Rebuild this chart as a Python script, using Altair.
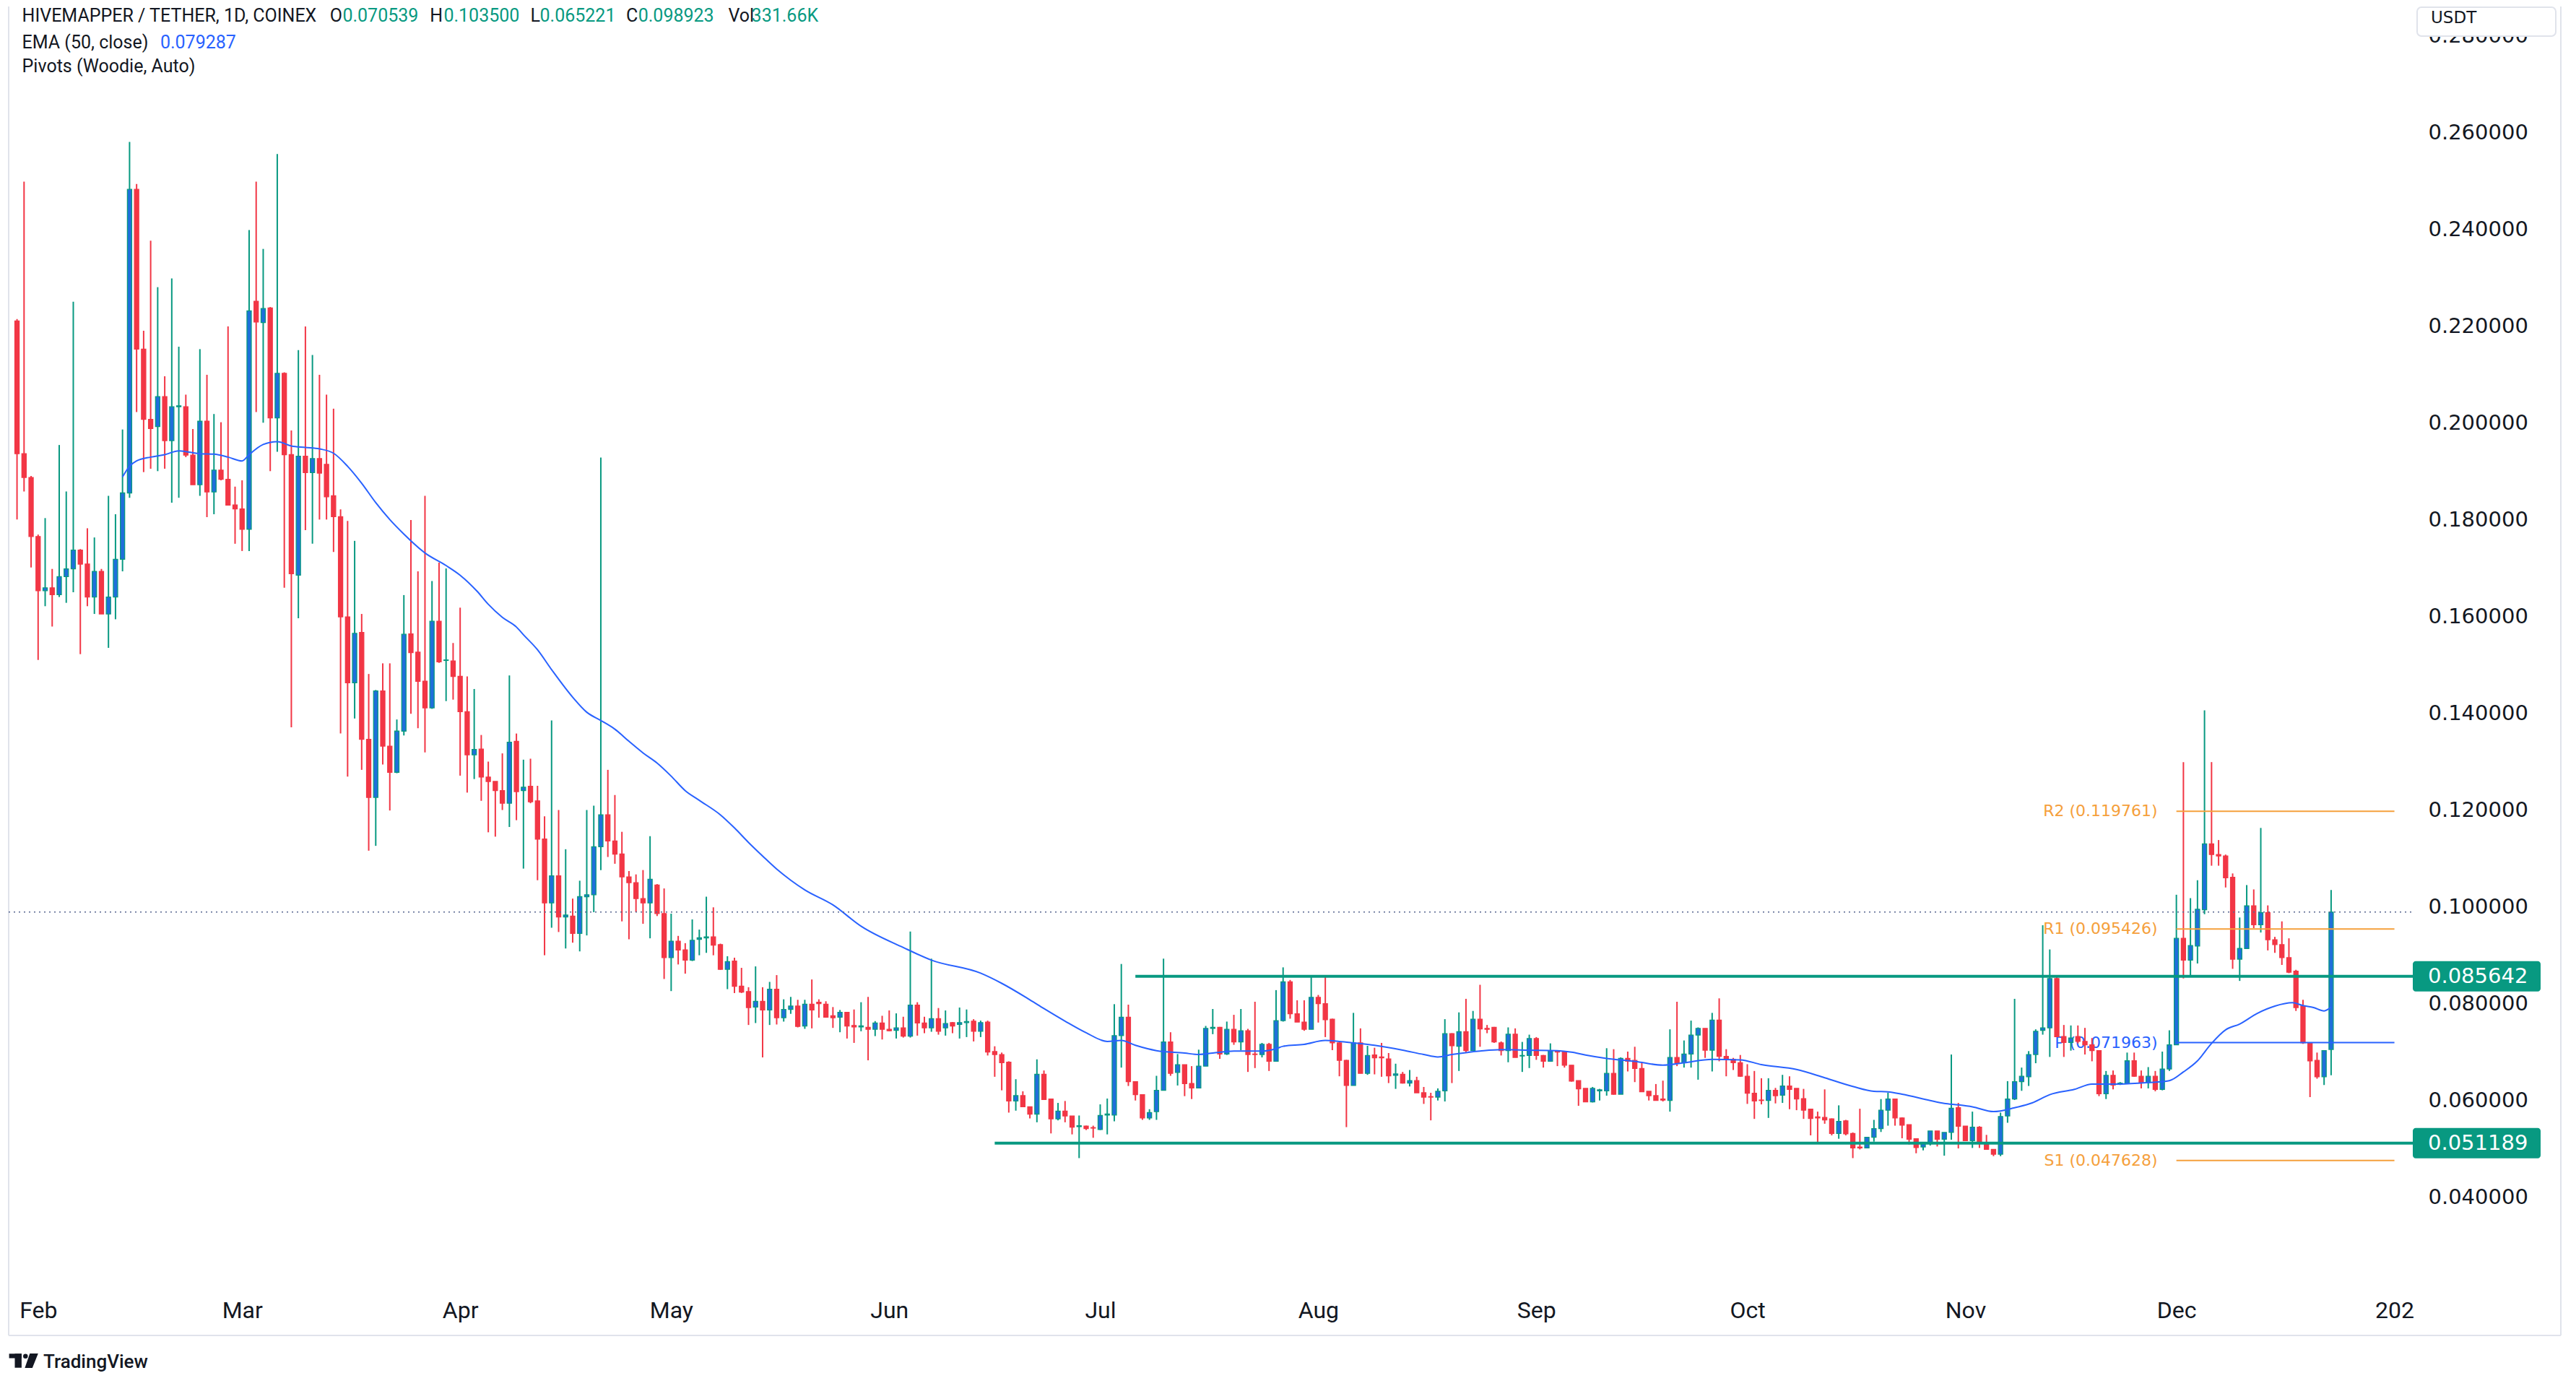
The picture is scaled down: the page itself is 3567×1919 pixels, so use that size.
import altair as alt
import pandas as pd
from datetime import datetime, timedelta, timezone

# ---------------- data ----------------
OPEN = [
    0.2210, 0.1936, 0.1887, 0.1765, 0.1653, 0.1659, 0.1645, 0.1682, 0.1698, 0.1737,
    0.1708, 0.1640, 0.1693, 0.1605, 0.1640, 0.1718, 0.1855, 0.2482, 0.2152, 0.2007,
    0.1992, 0.2054, 0.1963, 0.2033, 0.2033, 0.1933, 0.1872, 0.2003, 0.1857, 0.1902,
    0.1883, 0.1830, 0.1822, 0.1780, 0.2251, 0.2207, 0.2237, 0.2010, 0.2102, 0.1934,
    0.1685, 0.1931, 0.1897, 0.1926, 0.1914, 0.1849, 0.1806, 0.1599, 0.1463, 0.1567,
    0.1346, 0.1226, 0.1446, 0.1332, 0.1278, 0.1363, 0.1564, 0.1526, 0.1466, 0.1411,
    0.1590, 0.1509, 0.1508, 0.1476, 0.1403, 0.1314, 0.1326, 0.1268, 0.1259, 0.1240,
    0.1214, 0.1342, 0.1240, 0.1249, 0.1219, 0.1140, 0.1008, 0.1064, 0.0979, 0.0981,
    0.0945, 0.1021, 0.1025, 0.1124, 0.1190, 0.1136, 0.1109, 0.1062, 0.1050, 0.1017,
    0.1008, 0.1045, 0.0986, 0.0895, 0.0929, 0.0911, 0.0890, 0.0933, 0.0936, 0.0938,
    0.0922, 0.0871, 0.0888, 0.0836, 0.0825, 0.0793, 0.0805, 0.0787, 0.0830, 0.0771,
    0.0788, 0.0795, 0.0754, 0.0799, 0.0803, 0.0799, 0.0775, 0.0772, 0.0782, 0.0755,
    0.0752, 0.0751, 0.0747, 0.0760, 0.0747, 0.0745, 0.0750, 0.0733, 0.0797, 0.0760,
    0.0750, 0.0769, 0.0750, 0.0761, 0.0757, 0.0761, 0.0764, 0.0743, 0.0762, 0.0701,
    0.0695, 0.0679, 0.0599, 0.0610, 0.0587, 0.0572, 0.0654, 0.0603, 0.0562, 0.0578,
    0.0568, 0.0546, 0.0547, 0.0544, 0.0540, 0.0570, 0.0570, 0.0734, 0.0772, 0.0639,
    0.0612, 0.0564, 0.0577, 0.0621, 0.0721, 0.0658, 0.0674, 0.0635, 0.0626, 0.0671,
    0.0749, 0.0751, 0.0696, 0.0747, 0.0721, 0.0744, 0.0696, 0.0695, 0.0716, 0.0681,
    0.0765, 0.0845, 0.0779, 0.0762, 0.0747, 0.0813, 0.0800, 0.0768, 0.0719, 0.0683,
    0.0631, 0.0719, 0.0656, 0.0694, 0.0690, 0.0686, 0.0652, 0.0654, 0.0636, 0.0641,
    0.0616, 0.0608, 0.0607, 0.0620, 0.0738, 0.0712, 0.0742, 0.0703, 0.0768, 0.0749,
    0.0751, 0.0719, 0.0703, 0.0737, 0.0692, 0.0693, 0.0728, 0.0693, 0.0681, 0.0703,
    0.0700, 0.0673, 0.0641, 0.0625, 0.0597, 0.0620, 0.0620, 0.0656, 0.0613, 0.0687,
    0.0683, 0.0666, 0.0619, 0.0610, 0.0603, 0.0600, 0.0689, 0.0678, 0.0696, 0.0735,
    0.0749, 0.0704, 0.0766, 0.0691, 0.0685, 0.0678, 0.0650, 0.0615, 0.0601, 0.0600,
    0.0621, 0.0611, 0.0630, 0.0625, 0.0604, 0.0582, 0.0566, 0.0565, 0.0562, 0.0532,
    0.0558, 0.0532, 0.0504, 0.0502, 0.0524, 0.0542, 0.0580, 0.0603, 0.0564, 0.0550,
    0.0521, 0.0504, 0.0512, 0.0537, 0.0520, 0.0534, 0.0585, 0.0547, 0.0517, 0.0545,
    0.0512, 0.0499, 0.0489, 0.0568, 0.0603, 0.0639, 0.0649, 0.0695, 0.0745, 0.0750,
    0.0852, 0.0732, 0.0720, 0.0732, 0.0722, 0.0715, 0.0703, 0.0614, 0.0652, 0.0634,
    0.0635, 0.0682, 0.0650, 0.0637, 0.0650, 0.0623, 0.0665, 0.0715, 0.0935, 0.0890,
    0.0919, 0.0994, 0.1130, 0.1108, 0.1105, 0.1061, 0.0892, 0.0914, 0.1002, 0.0963,
    0.0988, 0.0932, 0.0922, 0.0895, 0.0867, 0.0795, 0.0719, 0.0683, 0.0649, 0.070539,
]
HIGH = [
    0.2214, 0.2498, 0.1890, 0.1769, 0.1803, 0.1698, 0.1954, 0.1858, 0.2250, 0.1739,
    0.1782, 0.1763, 0.1698, 0.1849, 0.1811, 0.1986, 0.2580, 0.2493, 0.2190, 0.2376,
    0.2280, 0.2096, 0.2298, 0.2157, 0.2058, 0.1987, 0.2152, 0.2099, 0.2018, 0.2001,
    0.2199, 0.1868, 0.1881, 0.2398, 0.2498, 0.2359, 0.2239, 0.2555, 0.2104, 0.1984,
    0.2150, 0.2199, 0.2140, 0.2099, 0.2058, 0.2029, 0.1821, 0.1797, 0.1756, 0.1605,
    0.1481, 0.1448, 0.1503, 0.1503, 0.1387, 0.1644, 0.1799, 0.1693, 0.1849, 0.1673,
    0.1711, 0.1699, 0.1545, 0.1618, 0.1476, 0.1450, 0.1355, 0.1300, 0.1259, 0.1317,
    0.1478, 0.1358, 0.1304, 0.1306, 0.1250, 0.1187, 0.1385, 0.1200, 0.1119, 0.1017,
    0.1054, 0.1200, 0.1209, 0.1928, 0.1283, 0.1231, 0.1155, 0.1074, 0.1067, 0.1076,
    0.1146, 0.1047, 0.1038, 0.0986, 0.0940, 0.0925, 0.0974, 0.0953, 0.1021, 0.0999,
    0.0924, 0.0898, 0.0895, 0.0874, 0.0834, 0.0877, 0.0834, 0.0845, 0.0859, 0.0809,
    0.0814, 0.0808, 0.0808, 0.0850, 0.0809, 0.0805, 0.0793, 0.0787, 0.0782, 0.0788,
    0.0803, 0.0814, 0.0764, 0.0775, 0.0786, 0.0780, 0.0773, 0.0949, 0.0803, 0.0773,
    0.0893, 0.0791, 0.0786, 0.0762, 0.0792, 0.0788, 0.0768, 0.0765, 0.0765, 0.0712,
    0.0699, 0.0681, 0.0644, 0.0619, 0.0587, 0.0685, 0.0662, 0.0603, 0.0595, 0.0599,
    0.0568, 0.0569, 0.0548, 0.0548, 0.0592, 0.0604, 0.0799, 0.0882, 0.0798, 0.0639,
    0.0612, 0.0582, 0.0651, 0.0893, 0.0741, 0.0696, 0.0674, 0.0671, 0.0705, 0.0754,
    0.0789, 0.0752, 0.0763, 0.0777, 0.0789, 0.0748, 0.0804, 0.0719, 0.0719, 0.0828,
    0.0875, 0.0849, 0.0807, 0.0807, 0.0855, 0.0818, 0.0859, 0.0769, 0.0721, 0.0684,
    0.0781, 0.0749, 0.0713, 0.0709, 0.0719, 0.0698, 0.0676, 0.0659, 0.0663, 0.0649,
    0.0628, 0.0616, 0.0625, 0.0768, 0.0739, 0.0782, 0.0810, 0.0785, 0.0839, 0.0756,
    0.0752, 0.0722, 0.0751, 0.0749, 0.0721, 0.0736, 0.0731, 0.0694, 0.0718, 0.0704,
    0.0701, 0.0673, 0.0641, 0.0625, 0.0628, 0.0624, 0.0708, 0.0706, 0.0689, 0.0701,
    0.0711, 0.0680, 0.0619, 0.0634, 0.0641, 0.0747, 0.0804, 0.0724, 0.0765, 0.0751,
    0.0749, 0.0781, 0.0811, 0.0706, 0.0688, 0.0694, 0.0675, 0.0661, 0.0646, 0.0646,
    0.0626, 0.0653, 0.0650, 0.0625, 0.0624, 0.0582, 0.0577, 0.0623, 0.0563, 0.0590,
    0.0560, 0.0534, 0.0583, 0.0525, 0.0560, 0.0603, 0.0616, 0.0603, 0.0565, 0.0550,
    0.0522, 0.0514, 0.0537, 0.0537, 0.0534, 0.0695, 0.0595, 0.0547, 0.0577, 0.0547,
    0.0529, 0.0499, 0.0575, 0.0640, 0.0810, 0.0668, 0.0702, 0.0747, 0.0962, 0.0912,
    0.0855, 0.0756, 0.0755, 0.0755, 0.0750, 0.0729, 0.0703, 0.0661, 0.0662, 0.0638,
    0.0699, 0.0699, 0.0662, 0.0669, 0.0661, 0.0701, 0.0745, 0.1025, 0.1299, 0.1018,
    0.1055, 0.1406, 0.1299, 0.1138, 0.1108, 0.1069, 0.0978, 0.1045, 0.1036, 0.1163,
    0.1003, 0.0938, 0.0970, 0.0935, 0.0870, 0.0808, 0.0719, 0.0699, 0.0703, 0.1035,
]
LOW = [
    0.1800, 0.1858, 0.1701, 0.1510, 0.1621, 0.1579, 0.1640, 0.1628, 0.1650, 0.1522,
    0.1621, 0.1605, 0.1605, 0.1535, 0.1594, 0.1693, 0.1845, 0.2022, 0.1898, 0.1905,
    0.1900, 0.1905, 0.1835, 0.1845, 0.1929, 0.1872, 0.1849, 0.1805, 0.1811, 0.1881,
    0.1830, 0.1750, 0.1735, 0.1735, 0.2022, 0.2000, 0.1900, 0.1940, 0.1659, 0.1371,
    0.1596, 0.1778, 0.1750, 0.1800, 0.1800, 0.1733, 0.1358, 0.1269, 0.1389, 0.1283,
    0.1116, 0.1126, 0.1294, 0.1199, 0.1276, 0.1354, 0.1399, 0.1369, 0.1319, 0.1409,
    0.1504, 0.1425, 0.1428, 0.1271, 0.1236, 0.1264, 0.1219, 0.1154, 0.1145, 0.1200,
    0.1165, 0.1179, 0.1079, 0.1214, 0.1055, 0.0900, 0.0957, 0.0948, 0.0914, 0.0926,
    0.0908, 0.0941, 0.0989, 0.1076, 0.1103, 0.1089, 0.0970, 0.0933, 0.0989, 0.0965,
    0.0935, 0.0981, 0.0851, 0.0826, 0.0881, 0.0862, 0.0888, 0.0900, 0.0905, 0.0900,
    0.0870, 0.0830, 0.0822, 0.0822, 0.0756, 0.0760, 0.0689, 0.0756, 0.0757, 0.0763,
    0.0779, 0.0751, 0.0748, 0.0749, 0.0771, 0.0771, 0.0750, 0.0741, 0.0728, 0.0719,
    0.0743, 0.0683, 0.0733, 0.0726, 0.0743, 0.0728, 0.0730, 0.0730, 0.0734, 0.0739,
    0.0742, 0.0736, 0.0734, 0.0739, 0.0728, 0.0731, 0.0722, 0.0731, 0.0693, 0.0649,
    0.0621, 0.0575, 0.0579, 0.0587, 0.0563, 0.0555, 0.0602, 0.0532, 0.0559, 0.0555,
    0.0530, 0.0481, 0.0539, 0.0523, 0.0539, 0.0530, 0.0557, 0.0668, 0.0630, 0.0600,
    0.0560, 0.0560, 0.0560, 0.0621, 0.0651, 0.0631, 0.0609, 0.0603, 0.0626, 0.0671,
    0.0737, 0.0686, 0.0694, 0.0715, 0.0704, 0.0659, 0.0667, 0.0689, 0.0661, 0.0681,
    0.0763, 0.0769, 0.0762, 0.0744, 0.0747, 0.0761, 0.0731, 0.0704, 0.0650, 0.0545,
    0.0631, 0.0656, 0.0653, 0.0654, 0.0649, 0.0636, 0.0624, 0.0635, 0.0629, 0.0616,
    0.0593, 0.0559, 0.0600, 0.0598, 0.0636, 0.0661, 0.0699, 0.0703, 0.0711, 0.0739,
    0.0719, 0.0693, 0.0679, 0.0689, 0.0659, 0.0667, 0.0684, 0.0668, 0.0680, 0.0671,
    0.0668, 0.0639, 0.0589, 0.0597, 0.0596, 0.0600, 0.0610, 0.0612, 0.0613, 0.0660,
    0.0638, 0.0618, 0.0600, 0.0600, 0.0598, 0.0577, 0.0671, 0.0668, 0.0668, 0.0643,
    0.0688, 0.0660, 0.0681, 0.0650, 0.0663, 0.0649, 0.0593, 0.0562, 0.0592, 0.0564,
    0.0594, 0.0595, 0.0582, 0.0580, 0.0562, 0.0528, 0.0511, 0.0552, 0.0528, 0.0521,
    0.0528, 0.0481, 0.0499, 0.0502, 0.0515, 0.0535, 0.0548, 0.0548, 0.0522, 0.0509,
    0.0491, 0.0497, 0.0507, 0.0505, 0.0486, 0.0519, 0.0501, 0.0517, 0.0502, 0.0502,
    0.0499, 0.0485, 0.0485, 0.0554, 0.0601, 0.0620, 0.0630, 0.0677, 0.0736, 0.0690,
    0.0732, 0.0690, 0.0703, 0.0718, 0.0695, 0.0681, 0.0609, 0.0603, 0.0623, 0.0632,
    0.0634, 0.0649, 0.0625, 0.0625, 0.0619, 0.0621, 0.0661, 0.0715, 0.0852, 0.0858,
    0.0883, 0.0985, 0.1085, 0.1085, 0.1040, 0.0872, 0.0847, 0.0913, 0.0956, 0.0947,
    0.0910, 0.0905, 0.0880, 0.0863, 0.0785, 0.0717, 0.0607, 0.0645, 0.0632, 0.065221,
]
CLOSE = [
    0.1936, 0.1887, 0.1765, 0.1653, 0.1659, 0.1645, 0.1682, 0.1698, 0.1737, 0.1708,
    0.1640, 0.1693, 0.1605, 0.1640, 0.1718, 0.1855, 0.2482, 0.2152, 0.2007, 0.1988,
    0.2054, 0.1963, 0.2033, 0.2035, 0.1933, 0.1872, 0.2003, 0.1857, 0.1902, 0.1883,
    0.1830, 0.1822, 0.1780, 0.2231, 0.2208, 0.2236, 0.2010, 0.2102, 0.1934, 0.1688,
    0.1931, 0.1897, 0.1926, 0.1896, 0.1847, 0.1806, 0.1599, 0.1463, 0.1565, 0.1346,
    0.1226, 0.1446, 0.1332, 0.1278, 0.1363, 0.1563, 0.1525, 0.1466, 0.1411, 0.1590,
    0.1506, 0.1510, 0.1476, 0.1403, 0.1314, 0.1325, 0.1268, 0.1259, 0.1240, 0.1214,
    0.1340, 0.1238, 0.1247, 0.1217, 0.1140, 0.1008, 0.1064, 0.0979, 0.0983, 0.0945,
    0.1021, 0.1025, 0.1124, 0.1190, 0.1136, 0.1109, 0.1062, 0.1050, 0.1017, 0.1008,
    0.1057, 0.0986, 0.0895, 0.0929, 0.0911, 0.0890, 0.0931, 0.0936, 0.0938, 0.0921,
    0.0871, 0.0887, 0.0836, 0.0824, 0.0792, 0.0805, 0.0787, 0.0830, 0.0771, 0.0788,
    0.0795, 0.0753, 0.0799, 0.0787, 0.0800, 0.0772, 0.0771, 0.0782, 0.0754, 0.0752,
    0.0754, 0.0747, 0.0760, 0.0747, 0.0744, 0.0750, 0.0733, 0.0797, 0.0760, 0.0750,
    0.0769, 0.0743, 0.0759, 0.0754, 0.0761, 0.0763, 0.0743, 0.0761, 0.0700, 0.0695,
    0.0678, 0.0599, 0.0610, 0.0587, 0.0572, 0.0654, 0.0602, 0.0562, 0.0578, 0.0568,
    0.0545, 0.0548, 0.0542, 0.0543, 0.0569, 0.0572, 0.0734, 0.0772, 0.0639, 0.0612,
    0.0564, 0.0575, 0.0621, 0.0721, 0.0656, 0.0674, 0.0635, 0.0626, 0.0671, 0.0749,
    0.0751, 0.0696, 0.0747, 0.0721, 0.0744, 0.0695, 0.0695, 0.0716, 0.0681, 0.0765,
    0.0845, 0.0779, 0.0762, 0.0747, 0.0813, 0.0800, 0.0767, 0.0719, 0.0683, 0.0631,
    0.0719, 0.0656, 0.0693, 0.0688, 0.0688, 0.0651, 0.0655, 0.0636, 0.0641, 0.0616,
    0.0607, 0.0607, 0.0619, 0.0738, 0.0713, 0.0742, 0.0703, 0.0768, 0.0748, 0.0747,
    0.0721, 0.0703, 0.0737, 0.0689, 0.0693, 0.0728, 0.0693, 0.0681, 0.0703, 0.0700,
    0.0673, 0.0640, 0.0624, 0.0597, 0.0625, 0.0622, 0.0656, 0.0613, 0.0687, 0.0681,
    0.0666, 0.0618, 0.0610, 0.0600, 0.0601, 0.0689, 0.0678, 0.0696, 0.0735, 0.0749,
    0.0704, 0.0766, 0.0691, 0.0685, 0.0678, 0.0650, 0.0615, 0.0599, 0.0600, 0.0621,
    0.0610, 0.0630, 0.0623, 0.0603, 0.0580, 0.0563, 0.0564, 0.0560, 0.0532, 0.0557,
    0.0531, 0.0502, 0.0502, 0.0524, 0.0542, 0.0580, 0.0603, 0.0564, 0.0549, 0.0520,
    0.0503, 0.0512, 0.0537, 0.0520, 0.0534, 0.0584, 0.0547, 0.0517, 0.0545, 0.0512,
    0.0499, 0.0489, 0.0567, 0.0603, 0.0639, 0.0650, 0.0695, 0.0743, 0.0750, 0.0852,
    0.0732, 0.0720, 0.0729, 0.0722, 0.0715, 0.0703, 0.0614, 0.0652, 0.0632, 0.0636,
    0.0682, 0.0650, 0.0637, 0.0650, 0.0623, 0.0665, 0.0715, 0.0935, 0.0890, 0.0920,
    0.0995, 0.1130, 0.1108, 0.1105, 0.1060, 0.0892, 0.0914, 0.1002, 0.0963, 0.0988,
    0.0932, 0.0922, 0.0895, 0.0865, 0.0792, 0.0719, 0.0682, 0.0649, 0.0703, 0.098923,
]

# EMA(50) line: (bar index, value)
EMA_IDX = [15, 16, 17, 19, 21, 23, 26, 28, 30, 32, 33, 35, 37, 39, 41, 43, 45, 47, 49, 51,
           53, 55, 58, 61, 63, 65.4, 67, 69, 71, 72, 74, 76, 79, 81, 83, 85, 87, 89, 91, 93,
           95, 97, 100, 102, 104, 106, 108, 110, 112, 116, 120, 126, 130, 137, 140, 144, 146,
           149, 152, 155, 157, 159, 162, 166, 168, 170, 173, 177, 179, 180, 183, 186, 188,
           190, 193, 197, 200, 202, 204, 208, 211, 215, 219, 221, 223, 226, 230, 234, 237,
           241, 245, 248, 253, 257, 261, 264, 266, 268, 272, 274, 276, 278, 281, 284, 286.5,
           289, 292.5, 295, 299, 303, 306, 308, 310, 312, 314, 316, 318.5, 321, 323.5, 325,
           326.5, 328, 329]
EMA_VAL = [0.1888, 0.1910, 0.1921, 0.1929, 0.1934, 0.1942, 0.1936, 0.1935, 0.1929, 0.1921,
           0.1934, 0.1955, 0.1961, 0.1952, 0.1949, 0.1946, 0.1937, 0.1910, 0.1875, 0.1835,
           0.1800, 0.1770, 0.1731, 0.1705, 0.1685, 0.1652, 0.1625, 0.1598, 0.1578, 0.1562,
           0.1531, 0.1490, 0.1433, 0.1402, 0.1385, 0.1367, 0.1342, 0.1318, 0.1297, 0.1270,
           0.1240, 0.1220, 0.1190, 0.1163, 0.1133, 0.1105, 0.1078, 0.1055, 0.1035, 0.1004,
           0.0960, 0.0916, 0.0890, 0.0863, 0.0842, 0.0808, 0.0790, 0.0764, 0.0740, 0.0722,
           0.0724, 0.0714, 0.0703, 0.0698, 0.0695, 0.0698, 0.0702, 0.0702, 0.0707, 0.0712,
           0.0716, 0.0724, 0.0722, 0.0719, 0.0714, 0.0704, 0.0695, 0.0690, 0.0695, 0.0702,
           0.0705, 0.0704, 0.0703, 0.0700, 0.0694, 0.0687, 0.0681, 0.0673, 0.0678, 0.0685,
           0.0684, 0.0674, 0.0664, 0.0647, 0.0629, 0.0619, 0.0618, 0.0613, 0.0600, 0.0594,
           0.0591, 0.0587, 0.0577, 0.0585, 0.0595, 0.0612, 0.0623, 0.0634, 0.0634, 0.0637,
           0.0641, 0.0659, 0.0682, 0.0718, 0.0746, 0.0758, 0.0780, 0.0795, 0.0802, 0.0796,
           0.0792, 0.0785, 0.0793]

LEVEL_VALUES = [0.051189, 0.085642]          # support, resistance
LEVEL_START_IDX = [139, 159]
PIVOT_NAMES = ["R2", "R1", "P", "S1"]
PIVOT_VALUES = [0.119761, 0.095426, 0.071963, 0.047628]
PIVOT_START_IDX = 307
PIVOT_END_IDX = 338
Y_TICKS = [0.04, 0.06, 0.08, 0.10, 0.12, 0.14, 0.16, 0.18, 0.20, 0.22, 0.24, 0.26, 0.28]

# ---------------- helpers / layout ----------------
UTC = timezone.utc
FIRST_DAY = datetime(2024, 1, 29, tzinfo=UTC)


def day(i):
    return FIRST_DAY + timedelta(days=i)


def iso(d):
    return d.strftime("%Y-%m-%dT%H:%M:%SZ")


def ms(d):
    return int(d.timestamp() * 1000)


W, H = 3334, 1774          # plot area (page x 8..3342, y 8..1782)
M = 8                      # page margin
X_DOMAIN = [ms(day(-1.085)), ms(day(340.2))]
Y_DOMAIN = [0.021317, 0.285974]
PX = (Y_DOMAIN[1] - Y_DOMAIN[0]) / H

UP_LINE = "#089981"
UP_BODY = "#1f6fdb"
DOWN = "#f23645"
EMA_C = "#2962ff"
ORANGE = "#f5a03c"
DARK = "#131722"
FRAME = "#e0e3eb"

month_ticks = [ms(datetime(2024, m, 1, tzinfo=UTC)) for m in range(2, 13)] + [ms(datetime(2025, 1, 1, tzinfo=UTC))]

xs = alt.Scale(type="utc", domain=X_DOMAIN, nice=False)
ys = alt.Scale(domain=Y_DOMAIN, nice=False, zero=False)
x_axis = alt.Axis(values=month_ticks, title=None, domain=False, ticks=False, grid=False,
                  labelExpr="utcmonth(datum.value) == 0 ? '202' : utcFormat(datum.value, '%b')",
                  labelFont="Roboto", labelFontSize=32, labelColor=DARK, labelPadding=31,
                  labelBaseline="middle", labelAlign="center", labelFlush=False, labelOverlap=False)
y_axis = alt.Axis(orient="right", values=Y_TICKS, format=".6f", title=None, domain=False,
                  ticks=False, grid=False, labelFont="DejaVu Sans", labelFontSize=29,
                  labelColor=DARK, labelPadding=20, labelOverlap=False, labelFlush=False)


def X(f):
    return alt.X(f"{f}:T", scale=xs, axis=x_axis)


def Y(f):
    return alt.Y(f"{f}:Q", scale=ys, axis=y_axis)


one = pd.DataFrame({"k": [0]})


def text(s, px, py, size, color=DARK, font="Roboto", align="left", weight="normal"):
    return alt.Chart(one).mark_text(text=s, align=align, baseline="middle", font=font,
                                    fontSize=size, color=color, fontWeight=weight).encode(
        x=alt.value(px - M), y=alt.value(py - M))


def box(x1, x2, y1, y2, **kw):
    return alt.Chart(one).mark_rect(**kw).encode(
        x=alt.value(x1 - M), x2=alt.value(x2 - M), y=alt.value(y1 - M), y2=alt.value(y2 - M))


def vline(px, y1, y2):
    return alt.Chart(one).mark_rule(color=FRAME, strokeWidth=2).encode(
        x=alt.value(px - M), y=alt.value(y1 - M), y2=alt.value(y2 - M))


def hline(py, x1, x2):
    return alt.Chart(one).mark_rule(color=FRAME, strokeWidth=2).encode(
        y=alt.value(py - M), x=alt.value(x1 - M), x2=alt.value(x2 - M))


# ---------------- data frames ----------------
candles = pd.DataFrame({
    "date": [iso(day(i)) for i in range(len(OPEN))],
    "open": OPEN, "high": HIGH, "low": LOW, "close": CLOSE,
})
candles["lo"] = candles[["open", "close"]].min(axis=1)
candles["hi"] = candles[["open", "close"]].max(axis=1)
candles["dir"] = ["up" if c >= o else "down" for o, c in zip(OPEN, CLOSE)]

ema = pd.DataFrame({"date": [iso(day(i)) for i in EMA_IDX], "ema": EMA_VAL})
levels = pd.DataFrame({"date": [iso(day(i)) for i in LEVEL_START_IDX], "value": LEVEL_VALUES})
pivots = pd.DataFrame({"name": PIVOT_NAMES, "value": PIVOT_VALUES,
                       "start": iso(day(PIVOT_START_IDX)), "end": iso(day(PIVOT_END_IDX))})
last = pd.DataFrame({"value": [CLOSE[-1]]})

stroke_scale = alt.Scale(domain=["up", "down"], range=[UP_LINE, DOWN])
fill_scale = alt.Scale(domain=["up", "down"], range=[UP_BODY, DOWN])
pivot_scale = alt.Scale(domain=PIVOT_NAMES, range=[ORANGE, ORANGE, EMA_C, ORANGE])

# ---------------- layers ----------------
pivot_labels = alt.Chart(pivots).transform_calculate(
    label="datum.name + ' (' + format(datum.value, '.6f') + ')'"
).mark_text(align="right", baseline="middle", dx=-26, font="DejaVu Sans", fontSize=22).encode(
    x=X("start"), y=Y("value"), text="label:N",
    color=alt.Color("name:N", scale=pivot_scale, legend=None))

wicks = alt.Chart(candles).mark_rule(strokeWidth=2).encode(
    x=X("date"), y=Y("low"), y2="high:Q",
    stroke=alt.Stroke("dir:N", scale=stroke_scale, legend=None))

bodies = alt.Chart(candles).mark_bar(size=6, strokeWidth=1.3).encode(
    x=X("date"), y=Y("lo"), y2="hi:Q",
    fill=alt.Fill("dir:N", scale=fill_scale, legend=None),
    stroke=alt.Stroke("dir:N", scale=stroke_scale, legend=None))

pivot_lines = alt.Chart(pivots).mark_rule(strokeWidth=2).encode(
    x=X("start"), x2="end:T", y=Y("value"),
    color=alt.Color("name:N", scale=pivot_scale, legend=None))

ema_line = alt.Chart(ema).mark_line(color=EMA_C, strokeWidth=2, interpolate="monotone").encode(
    x=X("date"), y=Y("ema"))

level_lines = alt.Chart(levels).mark_rule(color=UP_LINE, strokeWidth=4).encode(
    x=X("date"), x2=alt.value(3341 - M), y=Y("value"))

price_line = alt.Chart(last).mark_rule(color="#56658f", strokeWidth=1.6, strokeDash=[2, 5]).encode(
    y=Y("value"), x=alt.value(12 - M), x2=alt.value(W))

half = 21 * PX
badges = alt.Chart(levels).transform_calculate(
    blo=f"datum.value - {half}", bhi=f"datum.value + {half}"
).mark_rect(color=UP_LINE, cornerRadius=4).encode(
    x=alt.value(3341 - M), x2=alt.value(3518 - M), y=Y("blo"), y2="bhi:Q")

badge_text = alt.Chart(levels).mark_text(align="left", baseline="middle", font="DejaVu Sans",
                                         fontSize=29, color="white").encode(
    x=alt.value(3362 - M), y=Y("value"), text=alt.Text("value:Q", format=".6f"))

# header legend
header = [
    text("HIVEMAPPER / TETHER, 1D, COINEX", 30.6, 21, 25),
    text("O", 456.8, 21, 25), text(f"{OPEN[-1]:.6f}", 474.4, 21, 25, UP_LINE),
    text("H", 595.3, 21, 25), text(f"{HIGH[-1]:.6f}", 614.4, 21, 25, UP_LINE),
    text("L", 734.5, 21, 25), text(f"{LOW[-1]:.6f}", 747.5, 21, 25, UP_LINE),
    text("C", 866.9, 21, 25), text(f"{CLOSE[-1]:.6f}", 883.7, 21, 25, UP_LINE),
    text("Vol", 1008.4, 21, 25), text("331.66K", 1040.6, 21, 25, UP_LINE),
    text("EMA (50, close)", 30.6, 57.5, 25), text(f"{EMA_VAL[-1] - 0.000013:.6f}", 221.9, 57.5, 25, EMA_C),
    text("Pivots (Woodie, Auto)", 30.6, 91, 25),
]

frame = [
    vline(12, 8, 1848), vline(3546, 8, 1848), hline(1848, 12, 3546),
]

usdt = [
    box(3347, 3539, 9, 49, fill="white", stroke=FRAME, strokeWidth=2, cornerRadius=6),
    text("USDT", 3366, 24, 23, font="DejaVu Sans"),
]

logo = [
    box(12.6, 29.9, 1873.3, 1879.5, color=DARK),
    box(20.5, 29.9, 1873.3, 1892.7, color=DARK),
    alt.Chart(one).mark_point(shape="circle", filled=True, size=42, color=DARK, opacity=1).encode(
        x=alt.value(35.3 - M), y=alt.value(1876.8 - M)),
    alt.Chart(one).mark_point(shape="M-0.23,-1 L0.92,-1 L0.12,1 L-0.92,1 Z", filled=True,
                              size=400, color=DARK, opacity=1).encode(
        x=alt.value(43.6 - M), y=alt.value(1883 - M)),
    text("TradingView", 60, 1885, 26, weight=500),
]

chart = alt.layer(
    *frame,
    pivot_labels,
    wicks,
    bodies,
    pivot_lines,
    ema_line,
    level_lines,
    price_line,
    badges,
    badge_text,
    *usdt,
    *header,
    *logo,
).properties(width=W, height=H, padding=0).configure_view(stroke=None)

chart.save("out.html", embed_options={"renderer": "svg", "actions": False})
